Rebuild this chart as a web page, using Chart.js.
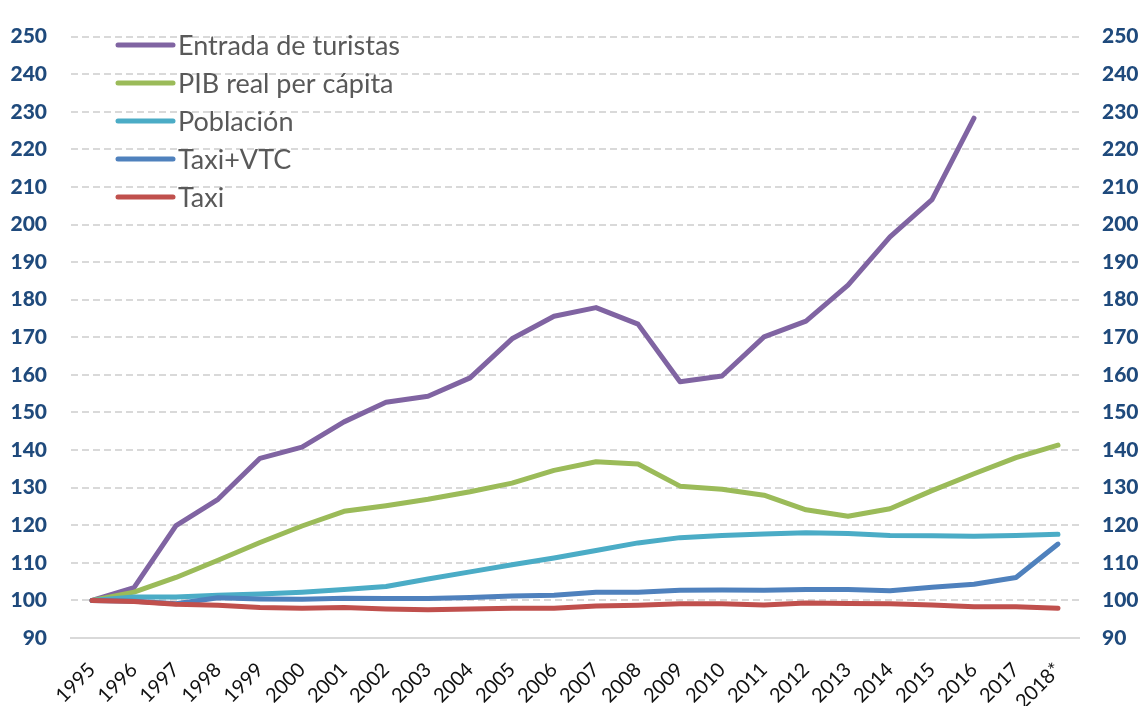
<!DOCTYPE html>
<html>
<head>
<meta charset="utf-8">
<script src="https://cdn.jsdelivr.net/npm/chart.js@4.4.1/dist/chart.umd.min.js"></script>
<style>
  html, body { margin: 0; padding: 0; background: #ffffff; }
  canvas { display: block; }
</style>
</head>
<body>
<canvas id="c" width="1141" height="706"></canvas>
<script>
const years = ['1995','1996','1997','1998','1999','2000','2001','2002','2003','2004','2005','2006','2007','2008','2009','2010','2011','2012','2013','2014','2015','2016','2017','2018*'];

const seriesNames = ['Entrada de turistas', 'PIB real per cápita', 'Población', 'Taxi+VTC', 'Taxi'];

const turistas = [100, 103.4, 119.9, 126.9, 137.8, 140.8, 147.5, 152.7, 154.3, 159.2, 169.6, 175.6, 177.9, 173.5, 158.2, 159.7, 170.1, 174.3, 183.9, 196.7, 206.6, 228.3, null, null];
const pib = [100, 102.2, 106.1, 110.7, 115.4, 119.8, 123.7, 125.2, 126.9, 128.9, 131.2, 134.6, 136.9, 136.3, 130.4, 129.6, 128.0, 124.1, 122.4, 124.4, 129.2, 133.7, 138.0, 141.3];
const poblacion = [100, 100.9, 100.9, 101.4, 101.7, 102.2, 102.9, 103.7, 105.7, 107.6, 109.5, 111.3, 113.3, 115.3, 116.7, 117.3, 117.7, 118.0, 117.8, 117.3, 117.2, 117.1, 117.3, 117.6];
const taxiVtc = [100, 99.8, 99.1, 100.7, 100.4, 100.3, 100.6, 100.5, 100.5, 100.8, 101.2, 101.4, 102.2, 102.2, 102.7, 102.8, 102.7, 102.9, 102.9, 102.6, 103.5, 104.3, 106.1, 115.0];
const taxi = [100, 99.7, 99.0, 98.7, 98.1, 97.9, 98.1, 97.7, 97.5, 97.7, 97.9, 97.9, 98.5, 98.7, 99.1, 99.1, 98.8, 99.3, 99.2, 99.1, 98.8, 98.3, 98.3, 97.9];

const yMin = 90, yMax = 250, yStep = 10;

const colors = ['#8064A2', '#9BBB59', '#4BACC6', '#4F81BD', '#C0504D'];
const values = [turistas, pib, poblacion, taxiVtc, taxi];

const datasets = values.map((v, i) => ({
  label: seriesNames[i],
  data: v,
  borderColor: colors[i],
  backgroundColor: colors[i],
  borderWidth: 5,
  pointRadius: 0,
  pointHoverRadius: 0,
  tension: 0,
  fill: false,
  spanGaps: false,
  borderJoinStyle: 'round',
  borderCapStyle: 'round',
  order: values.length - i
}));

const legendPlugin = {
  id: 'insideLegend',
  afterDatasetsDraw(chart) {
    const ctx = chart.ctx;
    const x0 = 118, x1 = 173, tx = 178, top = 45, gap = 38;
    ctx.save();
    chart.data.datasets.forEach((ds, i) => {
      const y = top + i * gap;
      ctx.strokeStyle = ds.borderColor;
      ctx.lineWidth = 5;
      ctx.lineCap = 'round';
      ctx.beginPath();
      ctx.moveTo(x0, y);
      ctx.lineTo(x1, y);
      ctx.stroke();
      ctx.fillStyle = '#595959';
      ctx.font = '27px Lato';
      ctx.textBaseline = 'middle';
      ctx.textAlign = 'left';
      ctx.fillText(ds.label, tx, y + 1);
    });
    ctx.restore();
  }
};

const tickFont = { family: 'Lato', size: 21, weight: '900' };

new Chart(document.getElementById('c'), {
  type: 'line',
  data: { labels: years, datasets },
  options: {
    responsive: false,
    animation: false,
    devicePixelRatio: 1,
    layout: { padding: { top: 23, left: 0, right: 0, bottom: 0 } },
    plugins: { legend: { display: false }, tooltip: { enabled: false } },
    scales: {
      x: {
        type: 'category',
        offset: true,
        grid: { display: false, drawTicks: false },
        border: { display: true, color: '#D9D9D9', width: 2 },
        ticks: {
          minRotation: 45, maxRotation: 45, autoSkip: false,
          padding: 20,
          color: '#111111',
          font: { family: 'Lato', size: 20 }
        },
        afterFit(scale) { scale.height = 68; }
      },
      y: {
        position: 'left',
        min: yMin, max: yMax,
        ticks: { stepSize: yStep, padding: 24, color: '#1F4A7C', font: tickFont },
        grid: {
          drawTicks: false,
          lineWidth: 2,
          color: (c) => (c.tick && c.tick.value === yMin) ? 'rgba(0,0,0,0)' : '#D9D9D9'
        },
        border: { display: false, dash: [7, 4] },
        afterFit(scale) { scale.width = 71; }
      },
      y2: {
        position: 'right',
        min: yMin, max: yMax,
        ticks: { stepSize: yStep, padding: 23, color: '#1F4A7C', font: tickFont },
        grid: { display: false, drawTicks: false },
        border: { display: false },
        afterFit(scale) { scale.width = 62; }
      }
    }
  },
  plugins: [legendPlugin]
});
</script>
</body>
</html>
